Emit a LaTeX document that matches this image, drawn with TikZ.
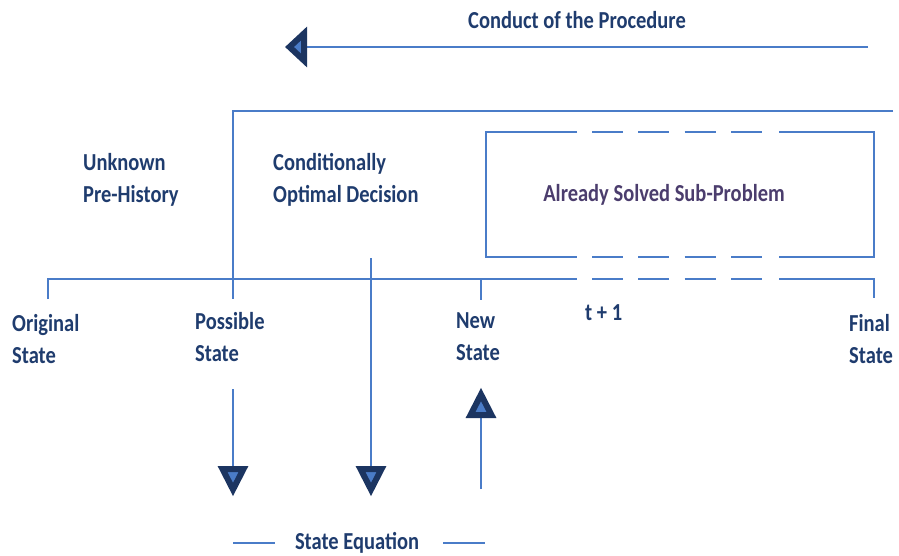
\documentclass[tikz,border=0pt]{standalone}
\usepackage{fontspec}
\usetikzlibrary{calc}
\setmainfont{Carlito}[FakeStretch=0.84]
\definecolor{lineblue}{HTML}{4A7CC8}
\definecolor{navy}{HTML}{1F3C6E}
\definecolor{headnavy}{HTML}{1C3561}
\definecolor{plum}{HTML}{4B3D6D}
\begin{document}
\begin{tikzpicture}[x=1pt,y=-1pt,
  line/.style={draw=lineblue,line width=2.5pt},
  dashline/.style={draw=lineblue,line width=2.5pt,dash pattern=on 31pt off 15.33pt},
  lbl/.style={text=navy,font=\bfseries\fontsize{24.4}{32}\selectfont,inner sep=0pt,align=left},
  head/.style={draw=headnavy,fill=lineblue,line width=6pt,line join=miter}]
\useasboundingbox[fill=white] (0,0) rectangle (899,556);
% texts
\node[lbl] (conduct) at (577,20) {Conduct of the Procedure};
\node[lbl,anchor=west] (unknown) at (83,180) {Unknown\\Pre-History};
\node[lbl,anchor=west] (cond) at (273,180) {Conditionally\\Optimal Decision};
\node[lbl,text=plum] (solved) at (664,195) {Already Solved Sub-Problem};
\node[lbl,anchor=west] (orig) at (12,339) {Original\\State};
\node[lbl,anchor=west] (poss) at (195,337) {Possible\\State};
\node[lbl,anchor=west] (new) at (456,337) {New\\State};
\node[lbl,anchor=west] (tp1) at (585,313) {t + 1};
\node[lbl,anchor=west] (final) at (849,339) {Final\\State};
\node[lbl] (steq) at (357,543) {State Equation};
% coordinates
\coordinate (arrR) at (868,47);
\coordinate (arrTip) at (285,47);
\coordinate (topR) at (893,111);
\coordinate (topL) at (233,111);
\coordinate (possB) at (233,299);
\coordinate (origB) at (48,299);
\coordinate (origT) at (48,279);
\coordinate (baseD1) at (577,279);
\coordinate (baseD2) at (592,279);
\coordinate (baseD3) at (762,279);
\coordinate (baseD4) at (779,279);
\coordinate (finT) at (874,279);
\coordinate (finB) at (874,298);
\coordinate (newT) at (481,279);
\coordinate (newB) at (481,300);
\coordinate (boxTD1) at (577,132);
\coordinate (boxTL) at (486,132);
\coordinate (boxBL) at (486,257);
\coordinate (boxBD1) at (577,257);
\coordinate (boxTD2) at (592,132);
\coordinate (boxTD3) at (762,132);
\coordinate (boxBD2) at (592,257);
\coordinate (boxBD3) at (762,257);
\coordinate (boxTD4) at (779,132);
\coordinate (boxTR) at (874,132);
\coordinate (boxBR) at (874,257);
\coordinate (boxBD4) at (779,257);
\coordinate (decT) at (371,258);
\coordinate (decTip) at (371,496);
\coordinate (possT) at (233,389);
\coordinate (possTip) at (233,496);
\coordinate (newS) at (481,489);
\coordinate (newTip) at (481,388);
\coordinate (eqL1) at (233,543);
\coordinate (eqL2) at (275,543);
\coordinate (eqR1) at (443,543);
\coordinate (eqR2) at (485,543);
% top arrow
\draw[line] (arrR) -- ($(arrTip)+(12,0)$);
\filldraw[head] (arrTip) ++(4.5,0) -- ++(14.5,-13.5) -- ++(0,27) -- cycle;
% upper frame
\draw[line] (topR) -- (topL) -- (possB);
% base line
\draw[line] (origB) -- (origT) -- (baseD1);
\draw[dashline] (baseD2) -- (baseD3);
\draw[line] (baseD4) -- (finT) -- (finB);
\draw[line] (newT) -- (newB);
% box
\draw[line] (boxTD1) -- (boxTL) -- (boxBL) -- (boxBD1);
\draw[dashline] (boxTD2) -- (boxTD3);
\draw[dashline] (boxBD2) -- (boxBD3);
\draw[line] (boxTD4) -- (boxTR) -- (boxBR) -- (boxBD4);
% vertical arrows
\draw[line] (decT) -- ($(decTip)+(0,-12)$);
\filldraw[head] (decTip) ++(0,-6.5) -- ++(10.5,-20.5) -- ++(-21,0) -- cycle;
\draw[line] (possT) -- ($(possTip)+(0,-12)$);
\filldraw[head] (possTip) ++(0,-6.5) -- ++(10.5,-20.5) -- ++(-21,0) -- cycle;
\draw[line] (newS) -- ($(newTip)+(0,12)$);
\filldraw[head] (newTip) ++(0,6.5) -- ++(10.5,20.5) -- ++(-21,0) -- cycle;
% state equation dashes
\draw[line] (eqL1) -- (eqL2);
\draw[line] (eqR1) -- (eqR2);
\end{tikzpicture}
\end{document}
